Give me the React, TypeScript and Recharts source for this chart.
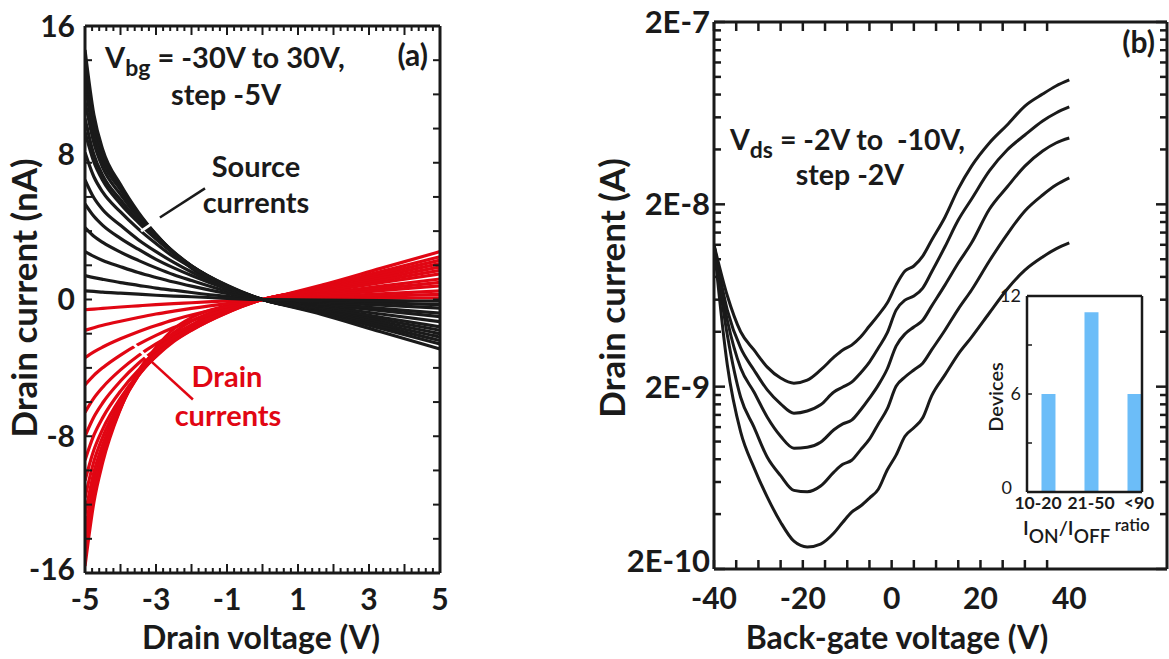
import React from 'react';
import { LineChart, Line, XAxis, YAxis, BarChart, Bar, ReferenceLine } from 'recharts';

const INK = '#1a1a1a';
const RED = '#e10613';
const BLUE = '#6cbdf8';
const FONT = 'Lato, "Open Sans", Arial, sans-serif';

// ---------- Panel (a): drain voltage sweep ----------
const drainVoltage = [-5, -4.75, -4.5, -4, -3.5, -3, -2.5, -2, -1, 0, 1.67, 3.33, 5];
const sourceCurrents: number[][] = [
  [14.6, 10.8, 8.76, 6.72, 5.11, 3.8, 2.7, 1.83, 0.66, 0, -0.87, -1.89, -2.9],
  [13.6, 10.27, 8.43, 6.53, 5.03, 3.81, 2.72, 1.9, 0.68, 0, -0.78, -1.69, -2.6],
  [12.6, 9.7, 8.06, 6.43, 4.91, 3.78, 2.77, 1.95, 0.76, 0, -0.72, -1.56, -2.4],
  [11.6, 9.16, 7.71, 6.15, 4.81, 3.71, 2.78, 1.97, 0.81, 0, -0.66, -1.43, -2.2],
  [10.6, 8.48, 7.26, 5.83, 4.61, 3.6, 2.7, 1.96, 0.8, 0, -0.6, -1.3, -2.0],
  [9.8, 8.04, 6.96, 5.59, 4.51, 3.53, 2.7, 1.96, 0.83, 0, -0.54, -1.17, -1.8],
  [8.6, 7.18, 6.28, 5.12, 4.13, 3.27, 2.49, 1.89, 0.77, 0, -0.48, -1.04, -1.6],
  [7.0, 5.95, 5.25, 4.34, 3.5, 2.8, 2.17, 1.61, 0.7, 0, -0.39, -0.85, -1.3],
  [5.6, 4.87, 4.34, 3.58, 2.94, 2.35, 1.85, 1.4, 0.62, 0, -0.3, -0.65, -1.0],
  [4.2, 3.7, 3.34, 2.77, 2.29, 1.85, 1.45, 1.11, 0.48, 0, -0.24, -0.52, -0.8],
  [2.8, 2.52, 2.28, 1.92, 1.58, 1.29, 1.02, 0.78, 0.35, 0, -0.15, -0.33, -0.5],
  [1.4, 1.28, 1.18, 0.99, 0.83, 0.67, 0.54, 0.41, 0.18, 0, -0.09, -0.2, -0.3],
  [0.5, 0.47, 0.43, 0.37, 0.31, 0.25, 0.2, 0.16, 0.07, 0, -0.03, -0.07, -0.1],
];
const drainCurrents: number[][] = [
  [-15.6, -11.86, -9.52, -6.4, -4.21, -2.81, -1.72, -1.06, -0.36, 0, 0.84, 1.82, 2.8],
  [-14.6, -11.3, -9.2, -6.37, -4.34, -3.01, -1.94, -1.27, -0.47, 0, 0.75, 1.63, 2.5],
  [-13.6, -10.73, -8.88, -6.31, -4.46, -3.18, -2.16, -1.48, -0.58, 0, 0.69, 1.5, 2.3],
  [-12.6, -10.12, -8.48, -6.17, -4.47, -3.28, -2.31, -1.63, -0.66, 0, 0.63, 1.37, 2.1],
  [-11.6, -9.47, -8.04, -5.99, -4.43, -3.32, -2.39, -1.72, -0.72, 0, 0.57, 1.24, 1.9],
  [-10.6, -8.81, -7.58, -5.77, -4.38, -3.33, -2.46, -1.8, -0.76, 0, 0.51, 1.1, 1.7],
  [-9.4, -7.94, -6.91, -5.36, -4.14, -3.2, -2.4, -1.78, -0.77, 0, 0.45, 0.98, 1.5],
  [-8.0, -6.87, -6.04, -4.77, -3.74, -2.93, -2.22, -1.66, -0.73, 0, 0.36, 0.78, 1.2],
  [-6.6, -5.77, -5.13, -4.12, -3.29, -2.6, -2.01, -1.52, -0.67, 0, 0.3, 0.65, 1.0],
  [-5.0, -4.44, -3.99, -3.25, -2.63, -2.1, -1.64, -1.25, -0.56, 0, 0.24, 0.52, 0.8],
  [-3.4, -3.06, -2.78, -2.3, -1.88, -1.52, -1.19, -0.91, -0.41, 0, 0.15, 0.33, 0.5],
  [-1.8, -1.65, -1.51, -1.27, -1.05, -0.85, -0.68, -0.52, -0.24, 0, 0.09, 0.2, 0.3],
  [-0.6, -0.56, -0.52, -0.44, -0.37, -0.3, -0.24, -0.19, -0.08, 0, 0.03, 0.07, 0.1],
];
const aXTickLabels = [-5, -3, -1, 1, 3, 5];
const aYTickLabels = [-16, -8, 0, 8, 16];

// ---------- Panel (b): back-gate sweep ----------
const backGate = [-40, -37, -34, -31, -28, -25, -22, -19, -16, -13, -11, -9, -7, -5, -3, -1, 1, 3, 5, 7, 9, 12, 15, 18, 22, 26, 30, 34, 37, 40];
const idVdsM10 = [1.2e-8, 6.3e-9, 4.0e-9, 3.18e-9, 2.56e-9, 2.23e-9, 2.09e-9, 2.17e-9, 2.47e-9, 2.9e-9, 3.18e-9, 3.38e-9, 3.74e-9, 4.3e-9, 4.94e-9, 5.75e-9, 7.21e-9, 8.61e-9, 9.18e-9, 1.04e-8, 1.27e-8, 1.7e-8, 2.43e-8, 3.24e-8, 4.34e-8, 5.45e-8, 6.92e-8, 8.05e-8, 8.91e-8, 9.62e-8];
const idVdsM8 = [1.2e-8, 5.26e-9, 3.26e-9, 2.47e-9, 1.92e-9, 1.61e-9, 1.43e-9, 1.47e-9, 1.59e-9, 1.87e-9, 1.99e-9, 2.12e-9, 2.38e-9, 2.73e-9, 3.26e-9, 3.94e-9, 5.26e-9, 5.97e-9, 6.28e-9, 6.95e-9, 8.51e-9, 1.17e-8, 1.64e-8, 2.14e-8, 3.05e-8, 3.97e-8, 4.8e-8, 5.73e-8, 6.34e-8, 6.84e-8];
const idVdsM6 = [1.2e-8, 4.63e-9, 2.53e-9, 1.87e-9, 1.36e-9, 1.07e-9, 9.2e-10, 9.3e-10, 9.9e-10, 1.16e-9, 1.25e-9, 1.31e-9, 1.49e-9, 1.73e-9, 2.04e-9, 2.5e-9, 3.34e-9, 3.89e-9, 4.25e-9, 4.63e-9, 5.53e-9, 7.21e-9, 9.53e-9, 1.23e-8, 1.88e-8, 2.49e-8, 3.24e-8, 3.92e-8, 4.34e-8, 4.62e-8];
const idVdsM4 = [1.2e-8, 3.84e-9, 1.75e-9, 1.2e-9, 8.2e-10, 6.5e-10, 5.4e-10, 5.3e-10, 5.7e-10, 6.8e-10, 7.5e-10, 7.9e-10, 9.0e-10, 1.03e-9, 1.25e-9, 1.51e-9, 2.01e-9, 2.26e-9, 2.47e-9, 2.69e-9, 3.18e-9, 4.08e-9, 5.33e-9, 6.78e-9, 9.78e-9, 1.37e-8, 1.84e-8, 2.25e-8, 2.55e-8, 2.79e-8];
const idVdsM2 = [1.2e-8, 2.63e-9, 1.13e-9, 7.2e-10, 4.96e-10, 3.61e-10, 2.84e-10, 2.64e-10, 2.74e-10, 3.15e-10, 3.61e-10, 4.1e-10, 4.43e-10, 4.9e-10, 5.48e-10, 6.98e-10, 8.43e-10, 1.07e-9, 1.19e-9, 1.35e-9, 1.78e-9, 2.32e-9, 3.02e-9, 3.74e-9, 5.07e-9, 6.85e-9, 8.72e-9, 1.03e-8, 1.14e-8, 1.23e-8];
const bXTickLabels = [-40, -20, 0, 20, 40];
const bYTickLabels = ['2E-10', '2E-9', '2E-8', '2E-7'];

// ---------- Inset ----------
const ratioBins = ['10-20', '21-50', '<90'];
const deviceCounts = [6, 11, 6];
const insetYTicks = [0, 3, 6, 9, 12];
const insetYLabels = [0, 6, 12];

// ---------- derived tables ----------
const rowsA = drainVoltage.map((v, i) => {
  const r: any = { v };
  sourceCurrents.forEach((c, k) => (r['s' + k] = c[i]));
  drainCurrents.forEach((c, k) => (r['d' + k] = c[i]));
  return r;
});
const rowsB = backGate.map((v, i) => ({
  v,
  c10: idVdsM10[i],
  c8: idVdsM8[i],
  c6: idVdsM6[i],
  c4: idVdsM4[i],
  c2: idVdsM2[i],
}));
const rowsInset = ratioBins.map((b, i) => ({ i, bin: b, n: deviceCounts[i] }));

const aXTicks = Array.from({ length: 51 }, (_, i) => Number((-5 + i * 0.2).toFixed(1)));
const aYTicks = Array.from({ length: 17 }, (_, i) => -16 + i * 2);
const bXTicks = Array.from({ length: 17 }, (_, i) => -40 + i * 5);
const bYTicks: number[] = [];
[-10, -9, -8].forEach((m) => {
  for (let k = 1; k <= 9; k++) bYTicks.push(Number((2 * k * Math.pow(10, m)).toPrecision(3)));
});
bYTicks.push(2e-7);

const near = (a: number, b: number) => Math.abs(a - b) < 1e-6;
const textStyle = { fontFamily: FONT, fontWeight: 700, fill: INK } as const;

// ---------- tick renderers ----------
const ATickBottom = (p: any) => {
  const v = p.payload.value;
  const major = near(v, Math.round(v));
  const lab = aXTickLabels.find((t) => near(t, v));
  return (
    <g>
      <line x1={p.x} x2={p.x} y1={p.y} y2={p.y - (major ? 9 : 5)} stroke={INK} strokeWidth={2} />
      {lab !== undefined && (
        <text x={p.x} y={p.y + 37} textAnchor="middle" fontSize={30} {...textStyle}>
          {lab}
        </text>
      )}
    </g>
  );
};
const ATickTop = (p: any) => {
  const v = p.payload.value;
  const major = near(v, Math.round(v));
  return <line x1={p.x} x2={p.x} y1={p.y} y2={p.y + (major ? 9 : 5)} stroke={INK} strokeWidth={2} />;
};
const aLabelShift: Record<string, number> = { '8': -9, '-16': -4 };
const ATickLeft = (p: any) => {
  const v = p.payload.value;
  const lab = aYTickLabels.find((t) => near(t, v));
  return (
    <g>
      <line x1={p.x} x2={p.x + 7} y1={p.y} y2={p.y} stroke={INK} strokeWidth={2} />
      {lab !== undefined && (
        <text x={p.x - 10} y={p.y + (aLabelShift[String(lab)] || 0)} dy="0.36em" textAnchor="end" fontSize={30} {...textStyle}>
          {lab}
        </text>
      )}
    </g>
  );
};
const ATickRight = (p: any) => (
  <line x1={p.x} x2={p.x - 7} y1={p.y} y2={p.y} stroke={INK} strokeWidth={2} />
);

const BTickBottom = (p: any) => {
  const v = p.payload.value;
  const lab = bXTickLabels.find((t) => near(t, v));
  return (
    <g>
      {v < 38 && <line x1={p.x} x2={p.x} y1={p.y} y2={p.y - 9} stroke={INK} strokeWidth={2.5} />}
      {lab !== undefined && (
        <text x={p.x} y={p.y + 40} textAnchor="middle" fontSize={30} {...textStyle}>
          {lab}
        </text>
      )}
    </g>
  );
};
const BTickTop = (p: any) => {
  const v = p.payload.value;
  return v < 38 ? <line x1={p.x} x2={p.x} y1={p.y} y2={p.y + 9} stroke={INK} strokeWidth={2.5} /> : <g />;
};
const bMajorIndex = (v: number) =>
  [2e-10, 2e-9, 2e-8, 2e-7].findIndex((t) => Math.abs(Math.log10(v / t)) < 1e-6);
const BTickLeft = (p: any) => {
  const v = p.payload.value;
  const idx = bMajorIndex(v);
  return (
    <g>
      <line x1={p.x} x2={p.x + (idx >= 0 ? 11 : 7)} y1={p.y} y2={p.y} stroke={INK} strokeWidth={2.5} />
      {idx >= 0 && (
        <text x={p.x - 4} y={p.y + (idx === 0 ? -8 : 0)} dy="0.36em" textAnchor="end" fontSize={31} {...textStyle}>
          {bYTickLabels[idx]}
        </text>
      )}
    </g>
  );
};
const BTickRight = (p: any) => {
  const v = p.payload.value;
  const idx = bMajorIndex(v);
  return <line x1={p.x} x2={p.x - (idx >= 0 ? 11 : 7)} y1={p.y} y2={p.y} stroke={INK} strokeWidth={2.5} />;
};

const binShift = [-10, 0, 5];
const ITickBottom = (p: any) => {
  const v = Math.round(p.payload.value);
  return (
    <text x={p.x + (binShift[v] || 0)} y={p.y + 17} textAnchor="middle" fontSize={17.5} {...textStyle}>
      {ratioBins[v]}
    </text>
  );
};
const ITickLeft = (p: any) => {
  const v = p.payload.value;
  const lab = insetYLabels.find((t) => near(t, v));
  return (
    <g>
      <line x1={p.x} x2={p.x + 5} y1={p.y} y2={p.y} stroke={INK} strokeWidth={1.5} />
      {lab !== undefined && (
        <text x={p.x - (lab === 0 ? 15 : 6)} y={p.y - (lab === 0 ? 4 : 0)} dy="0.36em" textAnchor="end" fontSize={18} fontFamily={FONT} fill={INK}>
          {lab}
        </text>
      )}
    </g>
  );
};
const NoTick = () => <g />;

const frame = { stroke: INK, strokeWidth: 3 };
const thin = { stroke: INK, strokeWidth: 2.5 };
const axisCommon = { tickSize: 0, tickMargin: 0, tickLine: false, interval: 0 as const, allowDataOverflow: true };

export default function App() {
  return (
    <div style={{ position: 'absolute', left: 0, top: 0, width: 1169, height: 659, background: '#fff', overflow: 'hidden' }}>
      {/* Panel (a) */}
      <div style={{ position: 'absolute', left: 0, top: 0 }}>
        <LineChart width={460} height={659} data={rowsA} margin={{ top: 25, right: 19, bottom: 85, left: 84 }}>
          <XAxis xAxisId="x" dataKey="v" type="number" domain={[-5, 5]} ticks={aXTicks} height={1} axisLine={frame} tick={ATickBottom} {...axisCommon} />
          <XAxis xAxisId="xt" orientation="top" dataKey="v" type="number" domain={[-5, 5]} ticks={aXTicks} height={1} axisLine={frame} tick={ATickTop} {...axisCommon} />
          <YAxis yAxisId="y" type="number" domain={[-16, 16]} ticks={aYTicks} width={1} axisLine={frame} tick={ATickLeft} {...axisCommon} />
          <YAxis yAxisId="yr" orientation="right" type="number" domain={[-16, 16]} ticks={aYTicks} width={1} axisLine={frame} tick={ATickRight} {...axisCommon} />
          {drainCurrents.map((_, k) => (
            <Line key={'d' + k} xAxisId="x" yAxisId="y" dataKey={'d' + k} type="monotone" stroke={RED} strokeWidth={3.2} dot={false} activeDot={false} isAnimationActive={false} />
          ))}
          {sourceCurrents.map((_, k) => (
            <Line key={'s' + k} xAxisId="x" yAxisId="y" dataKey={'s' + k} type="monotone" stroke={INK} strokeWidth={3.2} dot={false} activeDot={false} isAnimationActive={false} />
          ))}
          <ReferenceLine xAxisId="x" yAxisId="y" segment={[{ x: -3.42, y: 4.0 }, { x: -3.0, y: 4.6 }]} stroke="#fff" strokeWidth={3} ifOverflow="visible" />
          <ReferenceLine xAxisId="x" yAxisId="y" segment={[{ x: -2.89, y: 4.8 }, { x: -1.62, y: 6.5 }]} stroke={INK} strokeWidth={2.5} ifOverflow="visible" />
          <ReferenceLine xAxisId="x" yAxisId="y" segment={[{ x: -3.68, y: -2.5 }, { x: -3.25, y: -3.4 }]} stroke="#fff" strokeWidth={3} ifOverflow="visible" />
          <ReferenceLine xAxisId="x" yAxisId="y" segment={[{ x: -3.25, y: -3.4 }, { x: -1.96, y: -5.85 }]} stroke={RED} strokeWidth={2.5} ifOverflow="visible" />
        </LineChart>
      </div>

      {/* Panel (b) */}
      <div style={{ position: 'absolute', left: 600, top: 0 }}>
        <LineChart width={569} height={659} data={rowsB} margin={{ top: 21, right: 1, bottom: 89, left: 113 }}>
          <XAxis xAxisId="x" dataKey="v" type="number" domain={[-40, 62]} ticks={bXTicks} height={1} axisLine={frame} tick={BTickBottom} {...axisCommon} />
          <XAxis xAxisId="xt" orientation="top" dataKey="v" type="number" domain={[-40, 62]} ticks={bXTicks} height={1} axisLine={frame} tick={BTickTop} {...axisCommon} />
          <YAxis yAxisId="y" type="number" scale="log" domain={[2e-10, 2e-7]} ticks={bYTicks} width={1} axisLine={frame} tick={BTickLeft} {...axisCommon} />
          <YAxis yAxisId="yr" orientation="right" type="number" scale="log" domain={[2e-10, 2e-7]} ticks={bYTicks} width={1} axisLine={frame} tick={BTickRight} {...axisCommon} />
          {['c10', 'c8', 'c6', 'c4', 'c2'].map((k) => (
            <Line key={k} xAxisId="x" yAxisId="y" dataKey={k} type="monotone" stroke={INK} strokeWidth={3} dot={false} activeDot={false} isAnimationActive={false} />
          ))}
        </LineChart>
      </div>

      {/* Inset histogram */}
      <div style={{ position: 'absolute', left: 960, top: 270 }}>
        <BarChart width={209} height={300} data={rowsInset} margin={{ top: 25, right: 26, bottom: 77, left: 66 }}>
          <XAxis xAxisId="x" dataKey="i" type="number" domain={[-0.488, 2.186]} ticks={[0, 1, 2]} height={1} axisLine={thin} tick={ITickBottom} {...axisCommon} />
          <XAxis xAxisId="xt" orientation="top" dataKey="i" type="number" domain={[-0.488, 2.186]} ticks={[0, 1, 2]} height={1} axisLine={thin} tick={NoTick} {...axisCommon} />
          <YAxis yAxisId="y" type="number" domain={[0, 12]} ticks={insetYTicks} width={1} axisLine={thin} tick={ITickLeft} {...axisCommon} />
          <YAxis yAxisId="yr" orientation="right" type="number" domain={[0, 12]} ticks={insetYTicks} width={1} axisLine={thin} tick={NoTick} {...axisCommon} />
          <Bar xAxisId="x" yAxisId="y" dataKey="n" fill={BLUE} barSize={14} isAnimationActive={false} />
        </BarChart>
      </div>

      {/* Text annotations */}
      <svg width={1169} height={659} style={{ position: 'absolute', left: 0, top: 0, pointerEvents: 'none' }}>
        <g {...textStyle}>
          {/* panel a */}
          <text x={105} y={68} fontSize={29}>
            V<tspan dy={8} fontSize={23}>bg</tspan>
            <tspan dy={-8}> = -30V to 30V,</tspan>
          </text>
          <text x={226} y={105} fontSize={29} textAnchor="middle">step -5V</text>
          <text x={428} y={66} fontSize={30} textAnchor="end">(a)</text>
          <text x={256} y={177} fontSize={29} textAnchor="middle">Source</text>
          <text x={256} y={213} fontSize={29} textAnchor="middle">currents</text>
          <text x={227} y={387} fontSize={29} textAnchor="middle" fill={RED}>Drain</text>
          <text x={228} y={426} fontSize={29} textAnchor="middle" fill={RED}>currents</text>
          <text transform="translate(37,298) rotate(-90)" fontSize={35} textAnchor="middle">Drain current (nA)</text>
          <text x={261} y={649} fontSize={32} textAnchor="middle">Drain voltage (V)</text>
          {/* panel b */}
          <text x={730} y={150} fontSize={28.5}>
            V<tspan dy={8} fontSize={23}>ds</tspan>
            <tspan dy={-8}> = -2V to{'\u00a0'} -10V,</tspan>
          </text>
          <text x={850} y={185} fontSize={28.5} textAnchor="middle">step -2V</text>
          <text x={1155} y={53} fontSize={30} textAnchor="end">(b)</text>
          <text transform="translate(625,288) rotate(-90)" fontSize={35} textAnchor="middle">Drain current (A)</text>
          <text x={897} y={649} fontSize={32} textAnchor="middle">Back-gate voltage (V)</text>
          {/* inset */}
          <text transform="translate(1003,397) rotate(-90)" fontSize={20} fontWeight={600} textAnchor="middle">Devices</text>
          <text x={1023} y={535} fontSize={20} fontWeight={600}>
            I<tspan dy={8} fontSize={19}>ON</tspan>
            <tspan dy={-8}>/I</tspan>
            <tspan dy={8} fontSize={19}>OFF</tspan>
            <tspan dy={-12} fontSize={17}> ratio</tspan>
          </text>
        </g>
      </svg>
    </div>
  );
}
